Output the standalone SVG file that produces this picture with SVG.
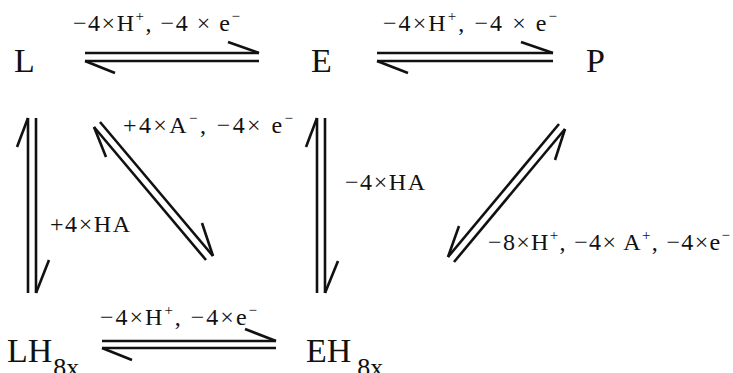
<svg xmlns="http://www.w3.org/2000/svg" width="733" height="373" viewBox="0 0 733 373">
<style>
.n{font-family:"Liberation Serif","Times New Roman",serif;font-size:34px;fill:#111}
.s{font-family:"Liberation Serif","Times New Roman",serif;font-size:26px;fill:#111}
.l{font-family:"Liberation Serif","Times New Roman",serif;font-size:24px;fill:#111}
.sup{font-size:15px}
.c line{stroke:#111;stroke-width:2.6;stroke-linecap:butt}
</style>
<rect width="733" height="373" fill="#fff"/>
<g id="node-L"><text class="n" x="14" y="72">L</text></g>
<g id="node-E"><text class="n" x="311" y="72">E</text></g>
<g id="node-P"><text class="n" x="586" y="72">P</text></g>
<g id="node-LH8x"><text class="n" x="7" y="362">LH<tspan class="s" dx="1" dy="14">8x</tspan></text></g>
<g id="node-EH8x"><text class="n" x="306" y="362">EH<tspan class="s" dx="6" dy="14">8x</tspan></text></g>
<g id="connectors" class="c">
<line x1="85" y1="53" x2="259" y2="53"/><line x1="228" y1="42" x2="259" y2="53"/>
<line x1="85" y1="61" x2="259" y2="61"/><line x1="85" y1="61" x2="115" y2="73"/>
<line x1="377" y1="53" x2="553" y2="53"/><line x1="521" y1="42" x2="553" y2="53"/>
<line x1="377" y1="61" x2="553" y2="61"/><line x1="377" y1="61" x2="408" y2="73"/>
<line x1="102" y1="341" x2="276" y2="341"/><line x1="245" y1="329" x2="276" y2="341"/>
<line x1="102" y1="348" x2="276" y2="348"/><line x1="102" y1="348" x2="132" y2="360"/>
<line x1="28" y1="118" x2="28" y2="293"/><line x1="17" y1="147" x2="28" y2="118"/>
<line x1="36" y1="118" x2="36" y2="293"/><line x1="49" y1="260" x2="36" y2="293"/>
<line x1="317" y1="118" x2="317" y2="293"/><line x1="306" y1="147" x2="317" y2="118"/>
<line x1="325" y1="118" x2="325" y2="293"/><line x1="338" y1="261" x2="325" y2="293"/>
<line x1="100" y1="122" x2="213" y2="256"/><line x1="202" y1="223" x2="213" y2="256"/>
<line x1="94" y1="127" x2="206" y2="260"/><line x1="94" y1="127" x2="106" y2="157"/>
<line x1="559" y1="124" x2="448" y2="257"/><line x1="459" y1="226" x2="448" y2="257"/>
<line x1="565" y1="129" x2="454" y2="262"/><line x1="555" y1="160" x2="565" y2="129"/>
</g>
<g id="labels">
<text class="l" x="73" y="31" textLength="167" lengthAdjust="spacing">−4×H<tspan class="sup" dy="-10">+</tspan><tspan dy="10">, −4 × e</tspan><tspan class="sup" dy="-10">−</tspan></text>
<text class="l" x="383" y="31" textLength="174" lengthAdjust="spacing">−4×H<tspan class="sup" dy="-10">+</tspan><tspan dy="10">, −4 × e</tspan><tspan class="sup" dy="-10">−</tspan></text>
<text class="l" x="100" y="325" textLength="157" lengthAdjust="spacing">−4×H<tspan class="sup" dy="-10">+</tspan><tspan dy="10">, −4×e</tspan><tspan class="sup" dy="-10">−</tspan></text>
<text class="l" x="123" y="133" textLength="170" lengthAdjust="spacing">+4×A<tspan class="sup" dy="-10">−</tspan><tspan dy="10">, −4× e</tspan><tspan class="sup" dy="-10">−</tspan></text>
<text class="l" x="50" y="232" textLength="80" lengthAdjust="spacing">+4×HA</text>
<text class="l" x="345" y="190" textLength="80" lengthAdjust="spacing">−4×HA</text>
<text class="l" x="488" y="250" textLength="242" lengthAdjust="spacing">−8×H<tspan class="sup" dy="-10">+</tspan><tspan dy="10">, −4× A</tspan><tspan class="sup" dy="-10">+</tspan><tspan dy="10">, −4×e</tspan><tspan class="sup" dy="-10">−</tspan></text>
</g>
</svg>
